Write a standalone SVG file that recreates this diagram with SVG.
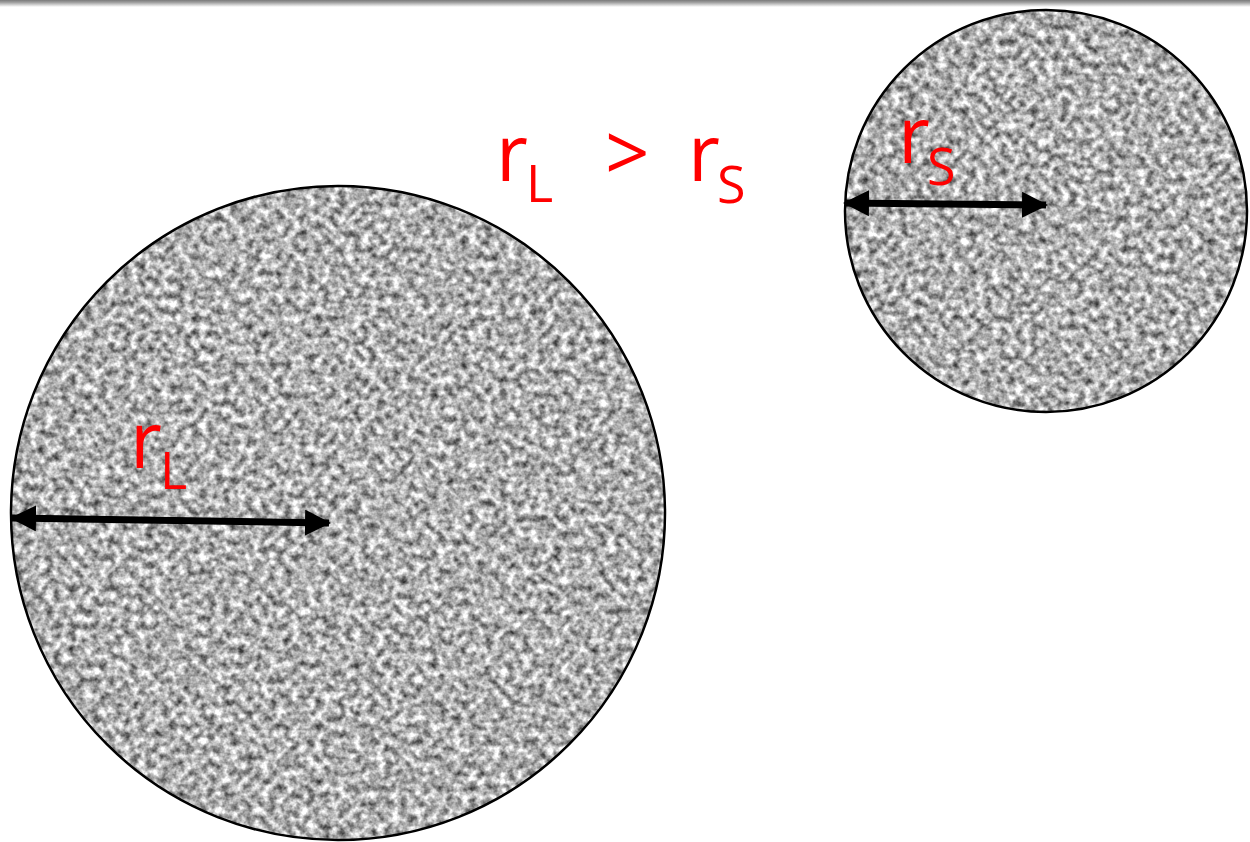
<svg xmlns="http://www.w3.org/2000/svg" width="1250" height="842" viewBox="0 0 1250 842">
  <defs>
    <linearGradient id="topShade" x1="0" y1="0" x2="0" y2="1">
      <stop offset="0" stop-color="#7a7a7a"/>
      <stop offset="0.35" stop-color="#a0a0a0"/>
      <stop offset="1" stop-color="#ffffff"/>
    </linearGradient>
    <filter id="noise" x="0" y="0" width="1" height="1" color-interpolation-filters="sRGB">
      <feTurbulence type="fractalNoise" baseFrequency="0.13" numOctaves="3" seed="7" result="t"/>
      <feColorMatrix in="t" type="matrix" values="1.25 0 0 0 0.06  1.25 0 0 0 0.06  1.25 0 0 0 0.06  0 0 0 0 1" result="g"/>
      <feComposite in="g" in2="SourceAlpha" operator="in"/>
    </filter>
    <marker id="ah" viewBox="0 0 26 26" refX="24" refY="13" markerWidth="26" markerHeight="26" markerUnits="userSpaceOnUse" orient="auto-start-reverse">
      <path d="M0,0 L26,13 L0,26 Z" fill="#000"/>
    </marker>
    <style>
      .disk { fill: #a8a8a8; filter: url(#noise); }
      .rim { fill: none; stroke: #000; stroke-width: 2.5; }
      .lbl { font-family: "Open Sans", "Liberation Sans", sans-serif; fill: #ff0000; font-size: 78px; }
      .sub { font-size: 52px; }
      .dim { stroke: #000; stroke-width: 7; fill: none; }
    </style>
  </defs>
  <rect x="0" y="0" width="1250" height="842" fill="#ffffff"/>
  <rect x="0" y="0" width="1250" height="7" fill="url(#topShade)"/>

  <g id="large-circle">
    <circle class="disk" cx="338" cy="513" r="327"/>
    <circle class="rim" cx="338" cy="513" r="327"/>
    <text class="lbl" x="130" y="468">r<tspan class="sub" dx="-2" dy="21">L</tspan></text>
  </g>

  <g id="small-circle">
    <circle class="disk" cx="1046" cy="211" r="201"/>
    <circle class="rim" cx="1046" cy="211" r="201"/>
    <text class="lbl" x="898" y="163">r<tspan class="sub" dx="-3" dy="22">S</tspan></text>
  </g>

  <g id="relation">
    <text class="lbl" x="496" y="181">r<tspan class="sub" dx="-2" dy="21">L</tspan></text>
    <text class="lbl" x="605" y="181">&gt;</text>
    <text class="lbl" x="688" y="181">r<tspan class="sub" dx="-3" dy="22">S</tspan></text>
  </g>

  <g id="connectors">
    <line class="dim" x1="12" y1="518" x2="329" y2="523" marker-start="url(#ah)" marker-end="url(#ah)"/>
    <line class="dim" x1="845" y1="203" x2="1046" y2="205" marker-start="url(#ah)" marker-end="url(#ah)"/>
  </g>
</svg>
